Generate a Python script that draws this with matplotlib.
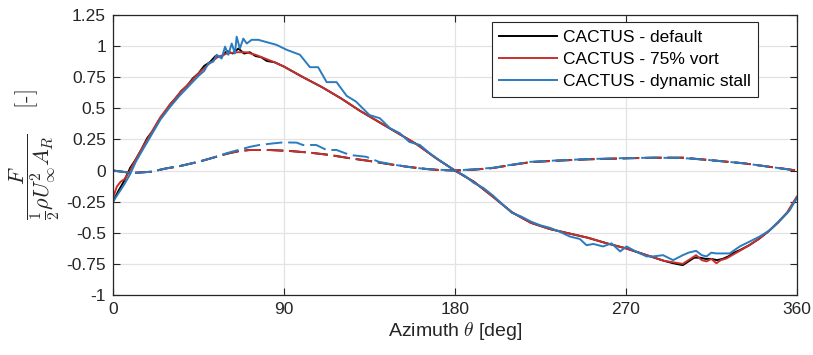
import numpy as np
import matplotlib.pyplot as plt

plt.rcParams['font.family'] = ['Liberation Sans', 'DejaVu Sans']
plt.rcParams['mathtext.fontset'] = 'cm'

# azimuth [deg] / normalised force [-]
th_def = [0, 3, 6, 9, 12, 15, 18, 21, 24, 27, 30, 33, 36, 39, 42, 45, 48, 51, 54, 57,
          60, 63, 66, 69, 72, 75, 78, 81, 85, 90, 100, 110, 120, 130, 140, 150, 160, 170,
          180, 190, 200, 210, 220, 230, 240, 250, 260, 270, 280, 290, 295, 300, 303, 306,
          309, 312, 315, 318, 321, 324, 327, 330, 335, 340, 345, 350, 355, 360]
f_def = [-0.25, -0.16, -0.08, 0.02, 0.09, 0.17, 0.26, 0.32, 0.40, 0.46, 0.53, 0.58, 0.64,
         0.68, 0.74, 0.78, 0.84, 0.87, 0.92, 0.91, 0.96, 0.94, 0.98, 0.94, 0.95, 0.92,
         0.91, 0.88, 0.87, 0.835, 0.75, 0.67, 0.58, 0.48, 0.39, 0.30, 0.21, 0.10,
         0.0, -0.09, -0.21, -0.335, -0.42, -0.47, -0.505, -0.54, -0.585, -0.625, -0.675,
         -0.725, -0.745, -0.76, -0.73, -0.70, -0.70, -0.71, -0.71, -0.72, -0.71, -0.69,
         -0.66, -0.64, -0.60, -0.55, -0.49, -0.42, -0.34, -0.22]

th_vort = [0, 2, 4, 6, 9, 12, 15, 20, 25, 30, 35, 40, 45, 50, 55, 60, 65, 70, 75, 80, 85,
           90, 100, 110, 120, 130, 140, 150, 160, 170, 180, 190, 200, 210, 220, 230, 240,
           250, 260, 270, 280, 290, 300, 307, 310, 312.5, 315, 317.7, 320, 323, 330, 335,
           340, 345, 350, 355, 360]
f_vort = [-0.22, -0.13, -0.09, -0.07, 0.0, 0.09, 0.17, 0.30, 0.43, 0.53, 0.62, 0.70, 0.78,
          0.85, 0.91, 0.94, 0.95, 0.95, 0.93, 0.90, 0.87, 0.835, 0.75, 0.67, 0.58, 0.48,
          0.39, 0.30, 0.21, 0.10, 0.0, -0.09, -0.21, -0.335, -0.42, -0.47, -0.505, -0.54,
          -0.585, -0.625, -0.675, -0.725, -0.75, -0.68, -0.72, -0.73, -0.71, -0.745, -0.72,
          -0.706, -0.645, -0.60, -0.55, -0.49, -0.42, -0.335, -0.21]

th_ds = [0, 3, 6, 9, 12, 15, 20, 25, 30, 35, 40, 45, 48, 50.2, 52.8, 54.6, 57.2, 59, 60.7,
         62.5, 64.2, 65.1, 66.8, 68.6, 70.4, 73, 76.5, 80, 86, 91.4, 98.4, 103.7, 108, 112.5,
         117.7, 123, 128, 135, 140.5, 145.8, 151, 156, 161.6, 166.8, 173, 180, 185, 190, 195,
         200, 205, 210, 215, 220, 225, 230, 235, 240.5, 245.8, 249.3, 253, 258, 262.5, 267,
         270.4, 274, 277.4, 281, 284.4, 289.6, 294.9, 300, 303, 307, 310, 312.5, 315, 317.7,
         324.7, 330, 335.3, 340.5, 345.8, 351, 356.3, 360]
f_ds = [-0.25, -0.18, -0.11, -0.03, 0.07, 0.15, 0.28, 0.41, 0.51, 0.60, 0.68, 0.76, 0.80,
        0.86, 0.875, 0.93, 0.90, 0.995, 0.93, 1.02, 0.94, 1.075, 0.98, 1.06, 1.02, 1.05,
        1.05, 1.035, 1.01, 0.97, 0.93, 0.83, 0.83, 0.71, 0.71, 0.60, 0.553, 0.446, 0.42,
        0.34, 0.30, 0.23, 0.205, 0.138, 0.07, 0.0, -0.04, -0.10, -0.14, -0.20, -0.27, -0.34,
        -0.37, -0.41, -0.44, -0.46, -0.49, -0.53, -0.55, -0.60, -0.59, -0.61, -0.585, -0.65,
        -0.61, -0.64, -0.666, -0.69, -0.69, -0.68, -0.72, -0.68, -0.66, -0.645, -0.68, -0.69,
        -0.66, -0.666, -0.666, -0.61, -0.57, -0.53, -0.48, -0.40, -0.32, -0.22]

# second (dashed) force component
th_dash = [0, 5, 10, 15, 20, 28, 35, 45, 52, 60, 66, 72, 82, 93, 104, 114, 125, 134, 145,
           155, 165, 172, 180, 190, 200, 210, 220, 235, 250, 270, 285, 300, 314, 332, 349, 360]
f_dash_def = [0.0, -0.01, -0.02, -0.015, -0.01, 0.017, 0.035, 0.07, 0.10, 0.135, 0.155,
              0.165, 0.165, 0.157, 0.143, 0.125, 0.098, 0.079, 0.052, 0.03, 0.012, 0.004,
              0.0, 0.007, 0.02, 0.045, 0.068, 0.08, 0.09, 0.098, 0.103, 0.103, 0.084, 0.058,
              0.023, 0.0]
f_dash_vort = [0.0, -0.01, -0.02, -0.015, -0.01, 0.017, 0.035, 0.07, 0.10, 0.135, 0.155,
               0.165, 0.165, 0.157, 0.143, 0.125, 0.098, 0.079, 0.052, 0.03, 0.012, 0.004,
               0.0, 0.007, 0.02, 0.045, 0.068, 0.08, 0.09, 0.098, 0.103, 0.103, 0.084, 0.058,
               0.023, 0.0]

th_dash_ds = [0, 5, 10, 15, 20, 28, 35, 45, 52, 60, 66, 72, 77, 84.4, 89.6, 96.7, 100, 107,
              112.5, 117.7, 124.7, 133.4, 140, 149, 160, 167, 180, 190, 200, 210, 220, 235,
              250, 270, 285, 300, 314, 332, 349, 360]
f_dash_ds = [0.0, -0.01, -0.02, -0.015, -0.01, 0.017, 0.035, 0.07, 0.10, 0.14, 0.165, 0.19,
             0.205, 0.218, 0.226, 0.224, 0.205, 0.205, 0.165, 0.165, 0.125, 0.11, 0.07,
             0.044, 0.02, 0.01, 0.0, 0.01, 0.022, 0.047, 0.07, 0.082, 0.092, 0.1, 0.103,
             0.1, 0.084, 0.058, 0.023, 0.0]

labels = ['CACTUS - default', 'CACTUS - 75% vort', 'CACTUS - dynamic stall']
colors = ['black', '#c8302c', '#2a7bbf']

fig = plt.figure(figsize=(8.13, 3.55), dpi=100)
ax = fig.add_axes([0.139, 0.169, 0.841, 0.789])

lw = 1.4
dash = (0, (8.5, 3))
ax.plot(th_def, f_def, color=colors[0], lw=lw, label=labels[0])
ax.plot(th_vort, f_vort, color=colors[1], lw=lw, label=labels[1])
ax.plot(th_ds, f_ds, color=colors[2], lw=lw, label=labels[2])
ax.plot(th_dash, f_dash_def, color=colors[0], lw=lw, ls=dash)
ax.plot(th_dash, f_dash_vort, color=colors[1], lw=lw, ls=dash)
ax.plot(th_dash_ds, f_dash_ds, color=colors[2], lw=lw, ls=dash)

ax.set_xlim(0, 360)
ax.set_ylim(-1, 1.25)
ax.set_xticks([0, 90, 180, 270, 360])
ax.set_yticks(np.arange(-1, 1.26, 0.25))
ax.set_yticklabels(['-1', '-0.75', '-0.5', '-0.25', '0', '0.25', '0.5', '0.75', '1', '1.25'])
ax.grid(True, color='#e3e3e3', lw=0.9)
ax.set_axisbelow(True)
ax.tick_params(direction='in', top=True, right=True, labelsize=12.5, colors='#262626',
               length=5, pad=5)
for s in ax.spines.values():
    s.set_color('#262626')
    s.set_linewidth(0.9)

ax.set_xlabel(r'Azimuth $\theta$ [deg]', fontsize=14, color='#262626', labelpad=2)
ax.set_ylabel(r'$\dfrac{F}{\frac{1}{2}\rho U_\infty^2 A_R}\quad\;[\text{-}]$', fontsize=16,
              color='#262626', labelpad=3)

leg = ax.legend(loc='upper right', bbox_to_anchor=(0.944, 0.975), fontsize=12.5,
                fancybox=False, edgecolor='#262626', framealpha=1, handlelength=3.3,
                borderpad=0.45, labelspacing=0.4, handletextpad=0.35, borderaxespad=0)
leg.get_frame().set_linewidth(0.8)

fig.savefig('out.png', dpi=100)
